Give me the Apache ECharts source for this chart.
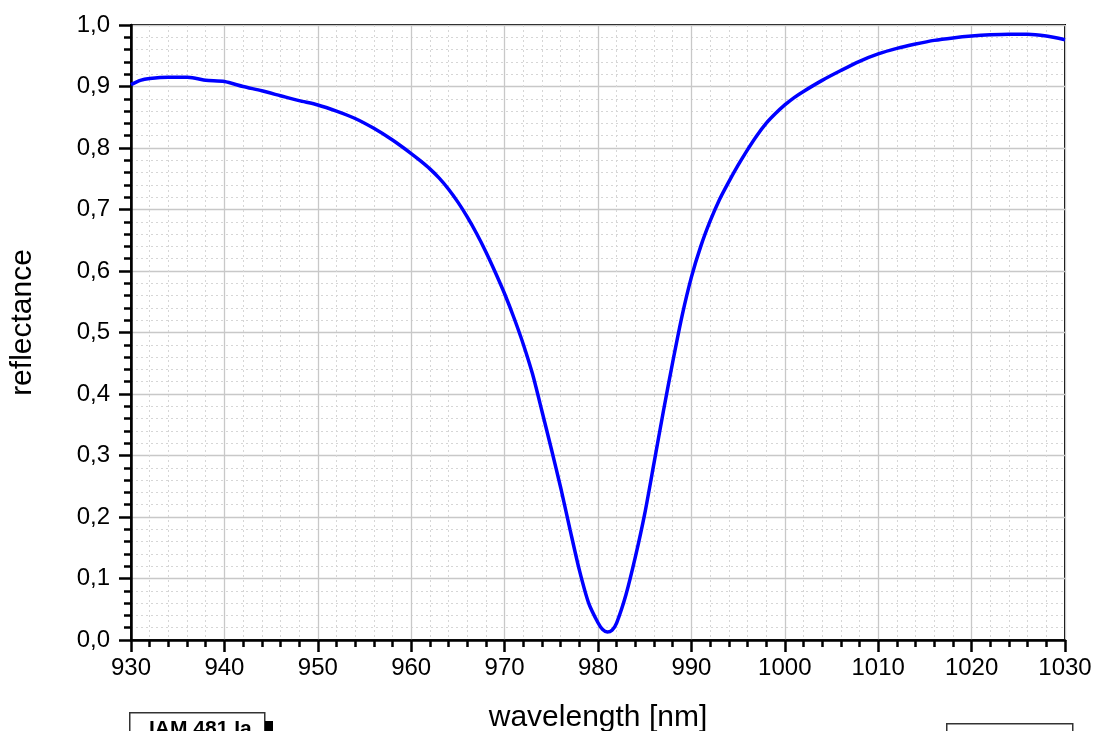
<!DOCTYPE html>
<html>
<head>
<meta charset="utf-8">
<style>
  html, body { margin: 0; padding: 0; background: #fff; }
  #chart { width: 1096px; height: 731px; }
</style>
<script src="https://cdn.jsdelivr.net/npm/echarts@6/dist/echarts.min.js"></script>
</head>
<body>
<div id="chart"></div>
<script>
// wavelength in nm
const wavelength = [930, 931, 932, 934, 936, 937, 938, 940, 942, 944, 946, 948, 950, 952, 954, 956, 958, 960, 961, 962, 963, 964, 965, 966, 967, 968, 969, 970, 971, 972, 973, 974, 975, 976, 977, 978, 979, 980, 980.5, 981, 981.5, 982, 983, 984, 985, 986, 987, 988, 989, 990, 991, 992, 993, 994, 995, 996, 997, 998, 999, 1000, 1001, 1002, 1004, 1006, 1008, 1010, 1012, 1014, 1016, 1018, 1020, 1022, 1024, 1026, 1028, 1030]
const reflectance = [0.903, 0.910, 0.913, 0.915, 0.915, 0.913, 0.910, 0.908, 0.900, 0.893, 0.885, 0.877, 0.870, 0.860, 0.848, 0.832, 0.813, 0.791, 0.779, 0.766, 0.751, 0.733, 0.712, 0.688, 0.661, 0.631, 0.598, 0.563, 0.524, 0.481, 0.432, 0.372, 0.311, 0.248, 0.180, 0.114, 0.060, 0.028, 0.017, 0.013, 0.016, 0.028, 0.074, 0.135, 0.205, 0.288, 0.372, 0.452, 0.527, 0.590, 0.640, 0.681, 0.716, 0.745, 0.772, 0.797, 0.820, 0.840, 0.856, 0.870, 0.882, 0.892, 0.910, 0.926, 0.941, 0.953, 0.962, 0.969, 0.975, 0.979, 0.982, 0.984, 0.985, 0.985, 0.982, 0.976]

const sampleLabel = 'IAM 481 Ia'
const xTitle = 'wavelength [nm]'
const yTitle = 'reflectance'

const chart = echarts.init(document.getElementById('chart'))

const font = 'Arial, "Liberation Sans", Helvetica, sans-serif'
const points = wavelength.map((w, i) => [w, reflectance[i]])

const option = {
  animation: false,
  backgroundColor: '#fff',
  grid: {
    left: 131, right: 31, top: 25, bottom: 91,
    outerBoundsMode: 'none', containLabel: false,
    show: true, borderColor: '#000', borderWidth: 2, backgroundColor: 'transparent'
  },
  xAxis: {
    type: 'value', min: 930, max: 1030, interval: 10,
    name: xTitle, nameLocation: 'middle', nameGap: 63,
    nameTextStyle: { fontSize: 30, color: '#000', fontFamily: font },
    axisLine: { lineStyle: { color: '#000', width: 2.5 } },
    axisTick: { inside: false, length: 12, lineStyle: { color: '#000', width: 2.5 } },
    minorTick: { show: true, splitNumber: 5, length: 7, lineStyle: { color: '#000', width: 2.5 } },
    axisLabel: { fontSize: 24, color: '#000', fontFamily: font, margin: 16, formatter: v => String(v) },
    splitLine: { show: true, lineStyle: { color: '#c8c8c8', width: 1.3 } },
    minorSplitLine: { show: true, lineStyle: { color: '#d6d6d6', width: 1, type: [2, 3] } }
  },
  yAxis: {
    type: 'value', min: 0, max: 1, interval: 0.1,
    name: yTitle, nameLocation: 'middle', nameGap: 93, nameRotate: 90,
    nameTextStyle: { fontSize: 30, color: '#000', fontFamily: font, padding: [0, 0, 0, 20] },
    axisLine: { lineStyle: { color: '#000', width: 2.5 } },
    axisTick: { inside: false, length: 12, lineStyle: { color: '#000', width: 2.5 } },
    minorTick: { show: true, splitNumber: 5, length: 7, lineStyle: { color: '#000', width: 2.5 } },
    axisLabel: {
      fontSize: 24, color: '#000', fontFamily: font, margin: 21,
      formatter: v => v.toFixed(1).replace('.', ',')
    },
    splitLine: { show: true, lineStyle: { color: '#c8c8c8', width: 1.3 } },
    minorSplitLine: { show: true, lineStyle: { color: '#d6d6d6', width: 1, type: [2, 3] } }
  },
  series: [{
    type: 'line',
    data: points,
    smooth: 0.25,
    symbol: 'none',
    lineStyle: { color: '#0000ff', width: 3.5 },
    z: 5
  }],
  graphic: [
    {
      type: 'rect', left: 129, top: 712,
      shape: { width: 135, height: 40 },
      style: { fill: '#fff', stroke: '#333', lineWidth: 1.5 }
    },
    {
      type: 'rect', left: 265, top: 721,
      shape: { width: 8, height: 14 },
      style: { fill: '#000' }
    },
    {
      type: 'text', left: 149, top: 719,
      style: { text: sampleLabel, font: 'bold 21px ' + font, fill: '#000' }
    },
    {
      type: 'rect', left: 946, top: 723,
      shape: { width: 126, height: 30 },
      style: { fill: '#fff', stroke: '#333', lineWidth: 1.5 }
    }
  ]
}

chart.setOption(option)
</script>
</body>
</html>
